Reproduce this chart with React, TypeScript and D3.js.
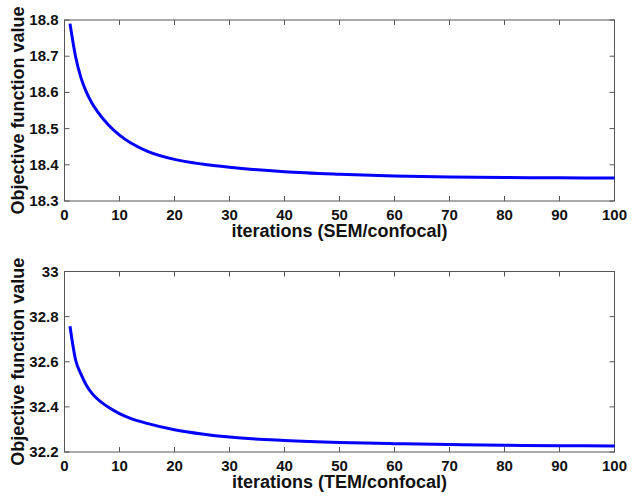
import React from "react";
import * as d3 from "d3";

const iterations = [1, 2, 3, 4, 5, 6, 8, 10, 12, 15, 20, 25, 30, 40, 50, 60, 70, 80, 90, 100];
const semValues = [18.79, 18.7, 18.64, 18.6, 18.57, 18.547, 18.51, 18.482, 18.461, 18.438, 18.415, 18.402, 18.393, 18.381, 18.374, 18.369, 18.366, 18.365, 18.364, 18.3635];
const temValues = [32.757, 32.61, 32.545, 32.495, 32.46, 32.435, 32.398, 32.37, 32.349, 32.327, 32.299, 32.28, 32.266, 32.251, 32.242, 32.237, 32.233, 32.23, 32.228, 32.227];
const xTicks = [0, 10, 20, 30, 40, 50, 60, 70, 80, 90, 100];
const semYTicks = [18.3, 18.4, 18.5, 18.6, 18.7, 18.8];
const temYTicks = [32.2, 32.4, 32.6, 32.8, 33];
const semXLabel = "iterations (SEM/confocal)";
const temXLabel = "iterations (TEM/confocal)";
const yLabel = "Objective function value";

const FONT = "'Liberation Sans', Arial, Helvetica, sans-serif";

type PanelProps = {
  top: number;
  bottom: number;
  yDomain: [number, number];
  yTicks: number[];
  values: number[];
  xLabel: string;
  fmt: (v: number) => string;
};

function Panel({ top, bottom, yDomain, yTicks, values, xLabel, fmt }: PanelProps) {
  const left = 64.5;
  const right = 614.5;
  const x = d3.scaleLinear().domain([0, 100]).range([left, right]);
  const y = d3.scaleLinear().domain(yDomain).range([bottom, top]);
  const line = d3
    .line<number>()
    .x((_, i) => x(iterations[i]))
    .y((d) => y(d))
    .curve(d3.curveMonotoneX);
  const tl = 5;
  const axisColor = "#555";
  return (
    <g>
      <rect x={left} y={top} width={right - left} height={bottom - top} fill="white" stroke={axisColor} strokeWidth={1} />
      {xTicks.map((t) => (
        <g key={"x" + t}>
          <line x1={x(t)} x2={x(t)} y1={bottom} y2={bottom - tl} stroke={axisColor} />
          <line x1={x(t)} x2={x(t)} y1={top} y2={top + tl} stroke={axisColor} />
          <text x={x(t)} y={bottom + 18.5} textAnchor="middle" fontFamily={FONT} fontWeight="bold" fontSize={15} fill="#111">
            {t}
          </text>
        </g>
      ))}
      {yTicks.map((t) => (
        <g key={"y" + t}>
          <line x1={left} x2={left + tl} y1={y(t)} y2={y(t)} stroke={axisColor} />
          <line x1={right} x2={right - tl} y1={y(t)} y2={y(t)} stroke={axisColor} />
          <text x={left - 6} y={y(t) + 5} textAnchor="end" fontFamily={FONT} fontWeight="bold" fontSize={15} fill="#111">
            {fmt(t)}
          </text>
        </g>
      ))}
      <path d={line(values) || ""} fill="none" stroke="#0000ff" strokeWidth={3} />
      <text x={(left + right) / 2} y={bottom + 36} textAnchor="middle" fontFamily={FONT} fontWeight="bold" fontSize={18} fill="#111">
        {xLabel}
      </text>
      <text
        transform={`translate(24, ${(top + bottom) / 2}) rotate(-90)`}
        textAnchor="middle"
        fontFamily={FONT}
        fontWeight="bold"
        fontSize={18}
        fill="#111"
      >
        {yLabel}
      </text>
    </g>
  );
}

export default function App() {
  return (
    <svg width={635} height={502} style={{ position: "absolute", left: 0, top: 0, background: "white" }}>
      <rect width={635} height={502} fill="white" />
      <Panel top={20} bottom={201} yDomain={[18.3, 18.8]} yTicks={semYTicks} values={semValues} xLabel={semXLabel} fmt={(v) => v.toFixed(1)} />
      <Panel top={271.5} bottom={452} yDomain={[32.2, 33]} yTicks={temYTicks} values={temValues} xLabel={temXLabel} fmt={(v) => (Number.isInteger(v) ? String(v) : v.toFixed(1))} />
    </svg>
  );
}
